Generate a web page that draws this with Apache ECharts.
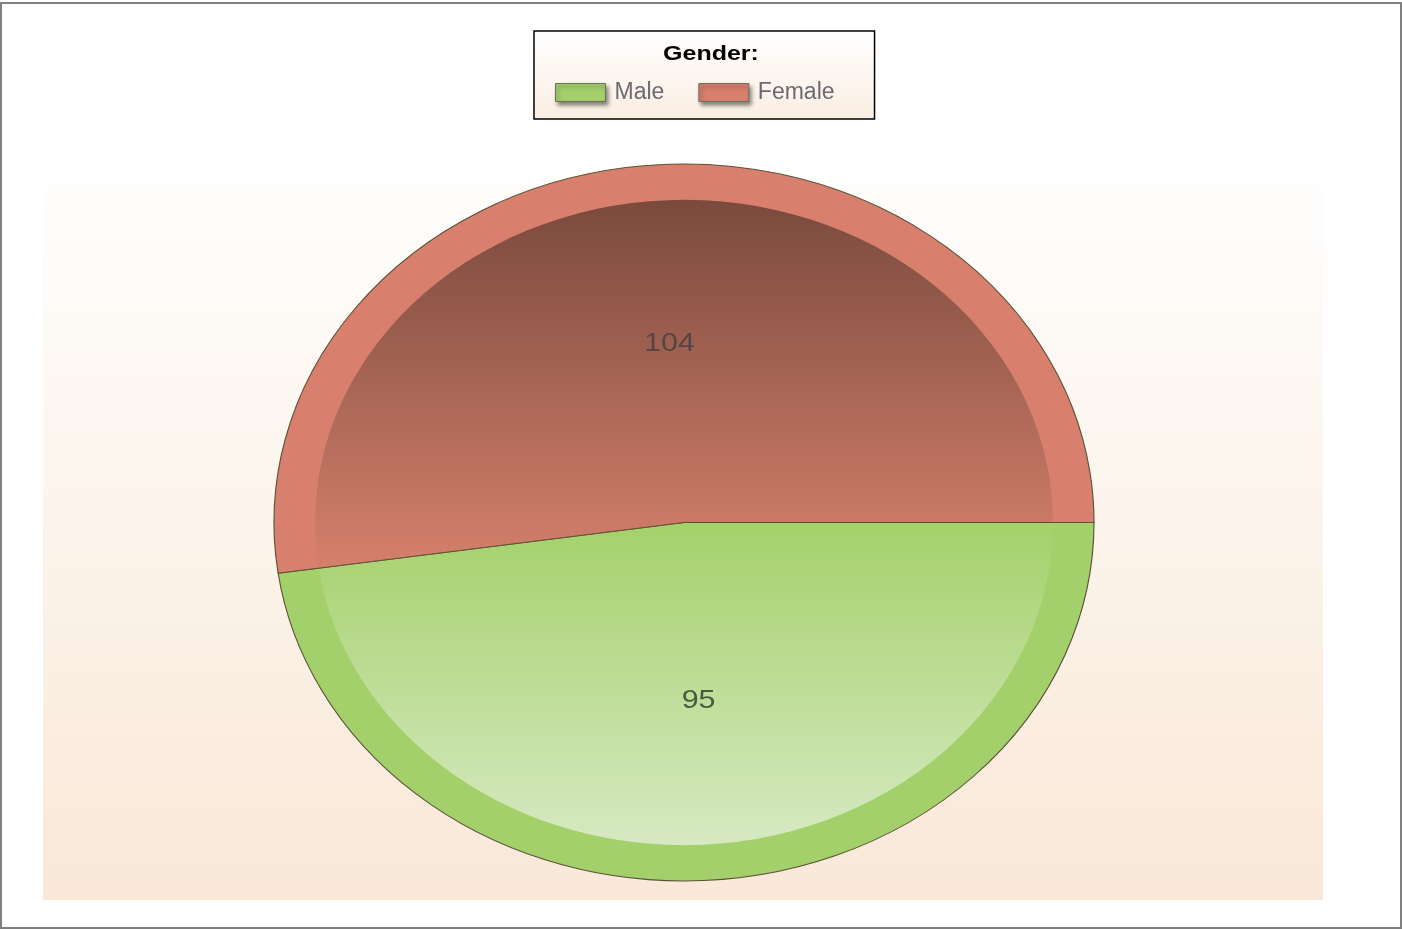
<!DOCTYPE html>
<html>
<head>
<meta charset="utf-8">
<script src="https://cdn.jsdelivr.net/npm/echarts@6/dist/echarts.min.js"></script>
<style>html,body{margin:0;padding:0;background:#fff;}#c{width:1402px;height:930px;}</style>
</head>
<body>
<div id="c"></div>
<script>
// ---- data ----
const legendTitle = 'Gender:';
const categories = ['Male', 'Female'];
const values = [95, 104];

// ---- styles ----
const rimColors = ['#a3d06b', '#d87f6d'];
const innerStops = [
  ['#a4d16b', '#d7e9c2'],
  ['#7a4a3d', '#d5806c']
];
const labelColors = ['#4a5a3e', '#564643'];

const CX = 684, CY = 522.5, RX = 410, RY = 358.5, INNER = 0.9;
const STRETCH = RX / RY;
const total = values.reduce((a, b) => a + b, 0);

function renderSlice(params, api) {
  const i = params.seriesIndex;
  const v = api.value(0);
  let before = 0;
  for (let k = 0; k < i; k++) before += values[k];
  const a0 = before / total * Math.PI * 2;
  const a1 = (before + v) / total * Math.PI * 2;
  const mid = (a0 + a1) / 2;
  const grad = new echarts.graphic.LinearGradient(0, 0, 0, 1, [
    { offset: 0, color: innerStops[i][0] },
    { offset: 1, color: innerStops[i][1] }
  ]);
  return {
    type: 'group',
    children: [
      {
        type: 'group', x: CX, y: CY, scaleX: STRETCH,
        children: [
          { type: 'sector', shape: { cx: 0, cy: 0, r0: 0, r: RY, startAngle: a0, endAngle: a1, clockwise: true }, style: { fill: rimColors[i] } },
          { type: 'sector', shape: { cx: 0, cy: 0, r0: 0, r: RY * INNER, startAngle: a0, endAngle: a1, clockwise: true }, style: { fill: grad } },
          { type: 'sector', shape: { cx: 0, cy: 0, r0: 0, r: RY, startAngle: a0, endAngle: a1, clockwise: true }, style: { fill: 'none', stroke: '#5a5236', lineWidth: 1, strokeNoScale: true } }
        ]
      },
      {
        type: 'text',
        x: CX + 0.5 * RX * Math.cos(mid),
        y: CY + 0.5 * RY * Math.sin(mid),
        scaleX: 1.17,
        style: { text: String(v), fill: labelColors[i], font: '26px "Liberation Sans", Arial, sans-serif', align: 'center', verticalAlign: 'middle' }
      }
    ]
  };
}

const chart = echarts.init(document.getElementById('c'), null, { renderer: 'canvas' });
chart.setOption({
  animation: false,
  graphic: [
    { type: 'rect', z: -20, shape: { x: 1, y: 3, width: 1400, height: 925 }, style: { fill: '#fff', stroke: '#808080', lineWidth: 2 } },
    { type: 'rect', z: -10, shape: { x: 43, y: 150, width: 1280, height: 750 },
      style: { fill: new echarts.graphic.LinearGradient(0, 0, 0, 1, [
        { offset: 0, color: '#ffffff' }, { offset: 1, color: '#f9e8d7' }]) } },
    { type: 'text', z: 100, x: 711, y: 54, scaleX: 1.25,
      style: { text: legendTitle, fill: '#000', font: 'bold 20px "Liberation Sans", Arial, sans-serif', align: 'center', verticalAlign: 'middle' } }
  ],
  legend: {
    data: categories,
    left: 534, top: 31,
    padding: [50, 40, 15, 21],
    itemWidth: 50, itemHeight: 18, itemGap: 34,
    icon: 'rect',
    backgroundColor: new echarts.graphic.LinearGradient(0, 0, 0, 1, [
      { offset: 0, color: '#ffffff' }, { offset: 1, color: '#fbeee2' }]),
    borderColor: '#000', borderWidth: 1.5,
    textStyle: { fontSize: 23, color: '#6a6a72', fontFamily: '"Liberation Sans", Arial, sans-serif', padding: [0, 0, 0, 4] },
    itemStyle: { borderColor: '#6f6f5f', borderWidth: 1, shadowBlur: 4, shadowColor: 'rgba(0,0,0,0.45)', shadowOffsetX: 2, shadowOffsetY: 3 }
  },
  series: categories.map((name, i) => ({
    type: 'custom',
    name: name,
    coordinateSystem: 'none',
    itemStyle: { color: rimColors[i] },
    data: [[values[i]]],
    renderItem: renderSlice
  }))
});
</script>
</body>
</html>
